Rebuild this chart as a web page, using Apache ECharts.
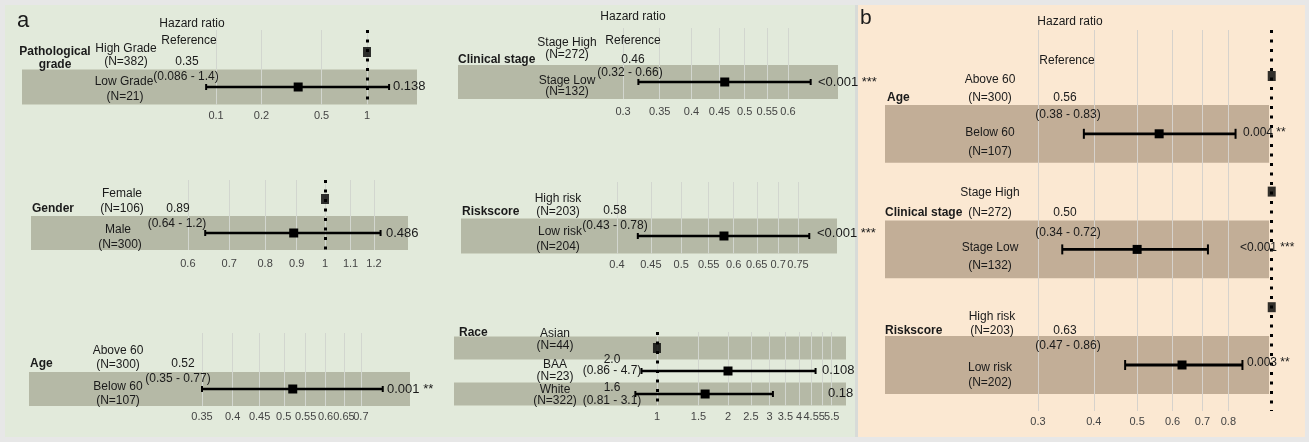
<!DOCTYPE html>
<html>
<head>
<meta charset="utf-8">
<script src="https://cdn.jsdelivr.net/npm/echarts@6/dist/echarts.min.js"></script>
<style>
html, body { margin: 0; padding: 0; background: #e7e7e7; }
#main { width: 1309px; height: 442px; }
</style>
</head>
<body>
<div id="main"></div>
<script>
// ---------- data: panel a ----------
var gradeLevels = ['High Grade', 'Low Grade'];
var gradeN = [382, 21];
var gradeHR = [0.35], gradeLow = [0.086], gradeHigh = [1.4];
var gradeP = ['0.138'];
var gradeTicks = [0.1, 0.2, 0.5, 1];

var genderLevels = ['Female', 'Male'];
var genderN = [106, 300];
var genderHR = [0.89], genderLow = [0.64], genderHigh = [1.23];
var genderP = ['0.486'];
var genderTicks = [0.6, 0.7, 0.8, 0.9, 1, 1.1, 1.2];

var ageLevels = ['Above 60', 'Below 60'];
var ageN = [300, 107];
var ageHR = [0.52], ageLow = [0.35], ageHigh = [0.77];
var ageP = ['0.001 **'];
var ageTicks = [0.35, 0.4, 0.45, 0.5, 0.55, 0.6, 0.65, 0.7];

var stageLevels = ['Stage High', 'Stage Low'];
var stageN = [272, 132];
var stageHR = [0.46], stageLow = [0.32], stageHigh = [0.66];
var stageP = ['<0.001 ***'];
var stageTicks = [0.3, 0.35, 0.4, 0.45, 0.5, 0.55, 0.6];

var riskLevels = ['High risk', 'Low risk'];
var riskN = [203, 204];
var riskHR = [0.58], riskLow = [0.43], riskHigh = [0.78];
var riskP = ['<0.001 ***'];
var riskTicks = [0.4, 0.45, 0.5, 0.55, 0.6, 0.65, 0.7, 0.75];

var raceLevels = ['Asian', 'BAA', 'White'];
var raceN = [44, 23, 322];
var raceHR = [2.0, 1.6], raceLow = [0.86, 0.81], raceHigh = [4.7, 3.1];
var raceP = ['0.108', '0.18'];
var raceTicks = [1, 1.5, 2, 2.5, 3, 3.5, 4, 4.5, 5, 5.5];

// ---------- data: panel b ----------
var bAgeLevels = ['Above 60', 'Below 60'], bAgeN = [300, 107];
var bStageLevels = ['Stage High', 'Stage Low'], bStageN = [272, 132];
var bRiskLevels = ['High risk', 'Low risk'], bRiskN = [203, 202];
var bHR = [0.56, 0.50, 0.63];
var bLow = [0.38, 0.34, 0.47];
var bHigh = [0.83, 0.72, 0.86];
var bP = ['0.004 **', '<0.001 ***', '0.003 **'];
var bTicks = [0.3, 0.4, 0.5, 0.6, 0.7, 0.8];

var FONT = '"Liberation Sans", Arial, sans-serif';
var L = function (v) { return Math.log(v) / Math.LN10; };
var fmt = function (v) { return v.toPrecision(2); };
var ciText = function (lo, hi) { return '(' + fmt(lo) + ' - ' + fmt(hi) + ')'; };
var tickFmt = function (v) { return String(+Math.pow(10, v).toFixed(2)); };

var elements = [];
function txt(x, y, s, o) {
    o = o || {};
    elements.push({
        type: 'text', x: x, y: y, z: 50, silent: true,
        style: {
            text: s, fill: o.color || '#1a1a1a',
            font: (o.bold ? 'bold ' : '') + (o.size || 12) + 'px ' + FONT,
            textAlign: o.align || 'center', textVerticalAlign: 'middle',
            align: o.align || 'center', verticalAlign: 'middle',
            lineHeight: o.lh || 13
        }
    });
}

// backgrounds
elements.push({ type: 'rect', z: -10, silent: true, shape: { x: 0, y: 0, width: 1309, height: 442 }, style: { fill: '#e7e7e7' } });
elements.push({ type: 'rect', z: -9, silent: true, shape: { x: 5, y: 5, width: 850, height: 432 }, style: { fill: '#e2eadb' } });
elements.push({ type: 'rect', z: -9, silent: true, shape: { x: 855, y: 5, width: 3, height: 432 }, style: { fill: '#d8dbd8' } });
elements.push({ type: 'rect', z: -9, silent: true, shape: { x: 858, y: 5, width: 447, height: 432 }, style: { fill: '#fbe8d2' } });

// layout of each small forest plot
var plots = [
    { grid: [22, 30, 395, 74.5], x: [-2.285, 0.331], y: [-0.629, 1.5], margin: 5.5, ticks: gradeTicks,
      bands: [1], refRows: [0], refLine: true,
      ci: [[1, gradeHR[0], gradeLow[0], gradeHigh[0]]] },
    { grid: [31, 180, 377, 70], x: [-0.4757, 0.1343], y: [-0.559, 1.5], margin: 8, ticks: genderTicks,
      bands: [1], refRows: [0], refLine: true,
      ci: [[1, genderHR[0], genderLow[0], genderHigh[0]]] },
    { grid: [29, 333, 381, 73], x: [-0.7836, -0.0619], y: [-0.647, 1.5], margin: 5, ticks: ageTicks,
      bands: [1], refRows: [], refLine: false,
      ci: [[1, ageHR[0], ageLow[0], ageHigh[0]]] },
    { grid: [458, 28, 380, 71], x: [-0.824, -0.1306], y: [-0.588, 1.5], margin: 7, ticks: stageTicks,
      bands: [1], refRows: [], refLine: false,
      ci: [[1, stageHR[0], stageLow[0], stageHigh[0]]] },
    { grid: [461, 182, 376, 71.5], x: [-0.6332, -0.0661], y: [-0.543, 1.5], margin: 6, ticks: riskTicks,
      bands: [1], refRows: [], refLine: false,
      ci: [[1, riskHR[0], riskLow[0], riskHigh[0]]] },
    { grid: [454, 332, 392, 73.5], x: [-0.860, 0.801], y: [-0.696, 2.5], margin: 6, ticks: raceTicks,
      bands: [0, 2], refRows: [0], refLine: true,
      ci: [[1, raceHR[0], raceLow[0], raceHigh[0]], [2, raceHR[1], raceLow[1], raceHigh[1]]] },
    { grid: [885, 30, 395, 381], x: [-0.865, 0.0185], y: [-0.796, 5.796], margin: 5, ticks: bTicks,
      bands: [1, 3, 5], bandEnd: -0.006, refRows: [0, 2, 4], refLine: true, panelB: true,
      ci: [[1, bHR[0], bLow[0], bHigh[0]], [3, bHR[1], bLow[1], bHigh[1]], [5, bHR[2], bLow[2], bHigh[2]]] }
];

var option = {
    animation: false,
    backgroundColor: 'transparent',
    grid: [], xAxis: [], yAxis: [], series: [],
    graphic: { elements: elements }
};

plots.forEach(function (p, i) {
    var tv = p.ticks.map(L);
    // labels split over two axes so crowded ticks all stay visible
    var evenTv = tv.filter(function (v, k) { return k % 2 === 0; });
    var oddTv = tv.filter(function (v, k) { return k % 2 === 1; });
    var bandColor = p.panelB ? '#c2ae97' : '#b5b9a6';
    var lw = p.panelB ? 2.8 : 2.6;
    var cap = p.panelB ? 5 : 3;
    var sq = 9;
    var xi = option.xAxis.length;
    var labelStyle = { interval: 0, margin: p.margin, fontSize: 11, color: '#444', fontFamily: FONT, hideOverlap: false, formatter: tickFmt };
    option.grid.push({ left: p.grid[0], top: p.grid[1], width: p.grid[2], height: p.grid[3] });
    option.xAxis.push({
        gridIndex: i, type: 'value', min: p.x[0], max: p.x[1], z: 2,
        axisLine: { show: false },
        axisTick: { show: false, customValues: tv },
        splitLine: { show: true, customValues: tv, lineStyle: { color: p.panelB ? '#d6d2cc' : '#d2d6cf', width: 1 } },
        axisLabel: echarts.util.extend({ customValues: evenTv }, labelStyle)
    });
    option.xAxis.push({
        gridIndex: i, type: 'value', position: 'bottom', offset: 0, min: p.x[0], max: p.x[1], z: 2,
        axisLine: { show: false },
        axisTick: { show: false, customValues: oddTv },
        splitLine: { show: false },
        axisLabel: echarts.util.extend({ customValues: oddTv }, labelStyle)
    });
    option.yAxis.push({ gridIndex: i, type: 'value', inverse: true, min: p.y[0], max: p.y[1], show: false });

    var x1 = p.bandEnd != null ? p.bandEnd : p.x[1];
    option.series.push({
        type: 'custom', xAxisIndex: xi, yAxisIndex: i, z: 1, silent: true,
        data: p.bands.map(function (r) { return [p.x[0], x1, r]; }),
        encode: { x: [0, 1], y: 2 },
        renderItem: function (params, api) {
            var a = api.coord([api.value(0), api.value(2) - 0.5]);
            var b = api.coord([api.value(1), api.value(2) + 0.5]);
            return { type: 'rect', shape: { x: a[0], y: a[1], width: b[0] - a[0], height: b[1] - a[1] }, style: { fill: bandColor } };
        }
    });
    option.series.push({
        type: 'custom', xAxisIndex: xi, yAxisIndex: i, z: 5, silent: true,
        data: p.ci.map(function (c) { return [c[0], L(c[1]), L(c[2]), L(c[3])]; }),
        encode: { x: [1, 2, 3], y: 0 },
        renderItem: function (params, api) {
            var row = api.value(0);
            var h = api.coord([api.value(1), row]);
            var lo = api.coord([api.value(2), row]);
            var hi = api.coord([api.value(3), row]);
            var st = { stroke: '#000', lineWidth: lw };
            return {
                type: 'group', children: [
                    { type: 'line', shape: { x1: lo[0], y1: lo[1], x2: hi[0], y2: hi[1] }, style: st },
                    { type: 'line', shape: { x1: lo[0], y1: lo[1] - cap, x2: lo[0], y2: lo[1] + cap }, style: { stroke: '#000', lineWidth: 2 } },
                    { type: 'line', shape: { x1: hi[0], y1: hi[1] - cap, x2: hi[0], y2: hi[1] + cap }, style: { stroke: '#000', lineWidth: 2 } },
                    { type: 'rect', shape: { x: h[0] - sq / 2, y: h[1] - sq / 2, width: sq, height: sq }, style: { fill: '#000' } }
                ]
            };
        }
    });
    if (p.refLine) {
        option.series.push({
            type: 'scatter', xAxisIndex: xi, yAxisIndex: i, z: 6, silent: true, clip: false,
            symbol: 'rect', symbolSize: [8, 10], itemStyle: { color: '#000' },
            data: p.refRows.map(function (r) { return [L(1), r]; }),
            markLine: {
                silent: true, symbol: 'none', label: { show: false },
                lineStyle: { color: '#000', width: 3, type: [3, 6.5] },
                data: [{ xAxis: L(1) }]
            }
        });
    }
});

// ---------- texts, panel a ----------
txt(17, 21, 'a', { size: 22, align: 'left' });
txt(192, 24, 'Hazard ratio');
txt(633, 17, 'Hazard ratio');

// Pathological grade
txt(55, 58.5, 'Pathological\ngrade', { bold: true });
txt(126, 49, gradeLevels[0]); txt(126, 62, '(N=' + gradeN[0] + ')');
txt(124, 82, gradeLevels[1]); txt(125, 97, '(N=' + gradeN[1] + ')');
txt(189, 41, 'Reference');
txt(187, 62, fmt(gradeHR[0])); txt(186, 77, ciText(gradeLow[0], gradeHigh[0]));
txt(393, 86, gradeP[0], { size: 13, align: 'left' });

// Gender
txt(32, 209, 'Gender', { bold: true, align: 'left' });
txt(122, 194, genderLevels[0]); txt(122, 209, '(N=' + genderN[0] + ')');
txt(118, 230, genderLevels[1]); txt(120, 245, '(N=' + genderN[1] + ')');
txt(178, 209, fmt(genderHR[0])); txt(177, 224, ciText(genderLow[0], genderHigh[0]));
txt(386, 233, genderP[0], { size: 13, align: 'left' });

// Age
txt(30, 364, 'Age', { bold: true, align: 'left' });
txt(118, 351, ageLevels[0]); txt(118, 365, '(N=' + ageN[0] + ')');
txt(118, 387, ageLevels[1]); txt(118, 401, '(N=' + ageN[1] + ')');
txt(183, 364, fmt(ageHR[0])); txt(178, 379, ciText(ageLow[0], ageHigh[0]));
txt(387, 389, ageP[0], { size: 13, align: 'left' });

// Clinical stage
txt(458, 60, 'Clinical stage', { bold: true, align: 'left' });
txt(567, 43, stageLevels[0]); txt(567, 55, '(N=' + stageN[0] + ')');
txt(567, 81, stageLevels[1]); txt(567, 92, '(N=' + stageN[1] + ')');
txt(633, 41, 'Reference');
txt(633, 60, fmt(stageHR[0])); txt(630, 73, ciText(stageLow[0], stageHigh[0]));
txt(818, 82, stageP[0], { size: 13, align: 'left' });

// Riskscore
txt(462, 212, 'Riskscore', { bold: true, align: 'left' });
txt(558, 199, riskLevels[0]); txt(558, 212, '(N=' + riskN[0] + ')');
txt(560, 232, riskLevels[1]); txt(558, 247, '(N=' + riskN[1] + ')');
txt(615, 211, fmt(riskHR[0])); txt(615, 226, ciText(riskLow[0], riskHigh[0]));
txt(817, 233, riskP[0], { size: 13, align: 'left' });

// Race
txt(459, 333, 'Race', { bold: true, align: 'left' });
txt(555, 334, raceLevels[0]); txt(555, 346, '(N=' + raceN[0] + ')');
txt(555, 365, raceLevels[1]); txt(555, 377, '(N=' + raceN[1] + ')');
txt(555, 390, raceLevels[2]); txt(555, 401, '(N=' + raceN[2] + ')');
txt(612, 360, fmt(raceHR[0])); txt(612, 371, ciText(raceLow[0], raceHigh[0]));
txt(612, 388, fmt(raceHR[1])); txt(612, 401, ciText(raceLow[1], raceHigh[1]));
txt(822, 370, raceP[0], { size: 13, align: 'left' });
txt(828, 393, raceP[1], { size: 13, align: 'left' });

// ---------- texts, panel b ----------
txt(860, 18, 'b', { size: 21, align: 'left' });
txt(1070, 22, 'Hazard ratio');
txt(1067, 61, 'Reference');

txt(887, 98, 'Age', { bold: true, align: 'left' });
txt(990, 80, bAgeLevels[0]); txt(990, 98, '(N=' + bAgeN[0] + ')');
txt(990, 133, bAgeLevels[1]); txt(990, 152, '(N=' + bAgeN[1] + ')');
txt(1065, 98, fmt(bHR[0])); txt(1068, 115, ciText(bLow[0], bHigh[0]));
txt(1243, 133, bP[0], { align: 'left' });

txt(885, 213, 'Clinical stage', { bold: true, align: 'left' });
txt(990, 193, bStageLevels[0]); txt(990, 213, '(N=' + bStageN[0] + ')');
txt(990, 248, bStageLevels[1]); txt(990, 266, '(N=' + bStageN[1] + ')');
txt(1065, 213, fmt(bHR[1])); txt(1068, 233, ciText(bLow[1], bHigh[1]));
txt(1240, 248, bP[1], { align: 'left' });

txt(885, 331, 'Riskscore', { bold: true, align: 'left' });
txt(992, 317, bRiskLevels[0]); txt(992, 331, '(N=' + bRiskN[0] + ')');
txt(990, 368, bRiskLevels[1]); txt(990, 383, '(N=' + bRiskN[1] + ')');
txt(1065, 331, fmt(bHR[2])); txt(1068, 346, ciText(bLow[2], bHigh[2]));
txt(1247, 363, bP[2], { align: 'left' });

var chart = echarts.init(document.getElementById('main'));
chart.setOption(option);
</script>
</body>
</html>
